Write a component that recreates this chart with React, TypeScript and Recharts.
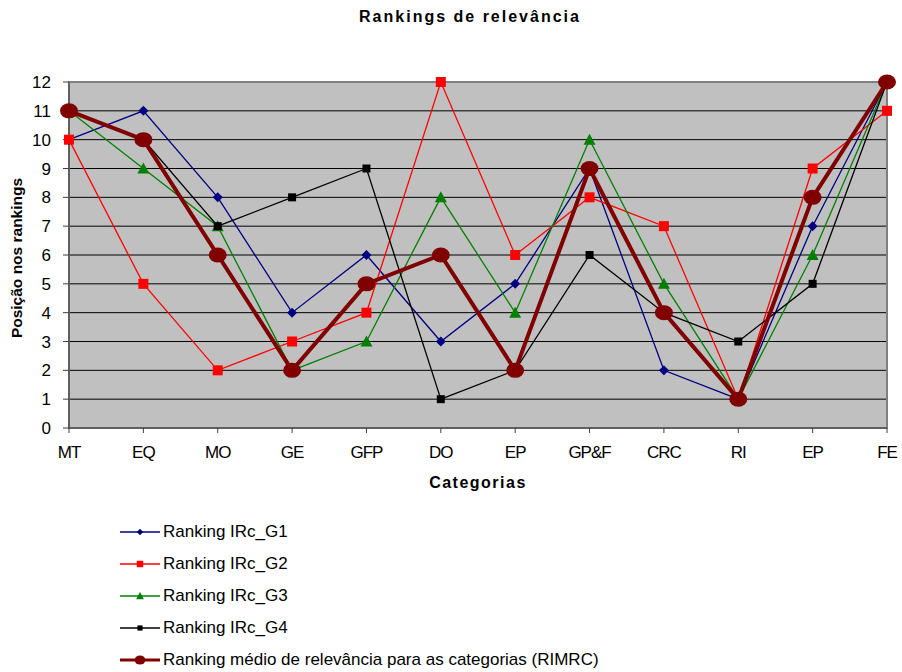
import { LineChart, Line, XAxis, YAxis, CartesianGrid, ReferenceArea } from 'recharts';

const categories = ['MT', 'EQ', 'MO', 'GE', 'GFP', 'DO', 'EP', 'GP&F', 'CRC', 'RI', 'EP', 'FE'];
const g1 = [10, 11, 8, 4, 6, 3, 5, 9, 2, 1, 7, 12];
const g2 = [10, 5, 2, 3, 4, 12, 6, 8, 7, 1, 9, 11];
const g3 = [11, 9, 7, 2, 3, 8, 4, 10, 5, 1, 6, 12];
const g4 = [11, 10, 7, 8, 9, 1, 2, 6, 4, 3, 5, 12];
const rimrc = [11, 10, 6, 2, 5, 6, 2, 9, 4, 1, 8, 12];
const yTicks = [0, 1, 2, 3, 4, 5, 6, 7, 8, 9, 10, 11, 12];

const data = categories.map((cat, i) => ({
  cat,
  g1: g1[i],
  g2: g2[i],
  g3: g3[i],
  g4: g4[i],
  rimrc: rimrc[i],
}));

const FONT = '"Liberation Sans", Arial, sans-serif';

type Shape = 'diamond' | 'square' | 'triangle' | 'smallSquare' | 'circle';

// s scales the marker (legend icons are drawn smaller than the plot markers)
function Marker({ shape, color, cx, cy, s = 1 }: { shape: Shape; color: string; cx: number; cy: number; s?: number }) {
  if (shape === 'diamond') {
    const r = 5 * s;
    return <polygon points={`${cx},${cy - r} ${cx + r},${cy} ${cx},${cy + r} ${cx - r},${cy}`} fill={color} />;
  }
  if (shape === 'square' || shape === 'smallSquare') {
    const h = (shape === 'square' ? 5 : 4) * s;
    return <rect x={cx - h} y={cy - h} width={h * 2} height={h * 2} fill={color} />;
  }
  if (shape === 'triangle') {
    return <polygon points={`${cx},${cy - 6 * s} ${cx + 6 * s},${cy + 5 * s} ${cx - 6 * s},${cy + 5 * s}`} fill={color} />;
  }
  return <ellipse cx={cx} cy={cy} rx={9 * s} ry={7.5 * s} fill={color} />;
}

const dot = (shape: Shape, color: string) => (p: any) => (
  <Marker key={`${shape}-${p.index}`} shape={shape} color={color} cx={p.cx} cy={p.cy} />
);

const series: { key: string; name: string; color: string; width: number; shape: Shape }[] = [
  { key: 'g1', name: 'Ranking IRc_G1', color: '#000080', width: 1.3, shape: 'diamond' },
  { key: 'g2', name: 'Ranking IRc_G2', color: '#FF0000', width: 1.3, shape: 'square' },
  { key: 'g3', name: 'Ranking IRc_G3', color: '#008000', width: 1.3, shape: 'triangle' },
  { key: 'g4', name: 'Ranking IRc_G4', color: '#000000', width: 1.3, shape: 'smallSquare' },
  { key: 'rimrc', name: 'Ranking médio de relevância para as categorias (RIMRC)', color: '#800000', width: 4, shape: 'circle' },
];

const XTick = ({ x, y, payload }: any) => (
  <text x={x} y={y + 23} textAnchor="middle" fontSize={17} fill="#000" fontFamily={FONT} letterSpacing={-1}>
    {payload.value}
  </text>
);

export default function App() {
  return (
    <div style={{ position: 'absolute', left: 0, top: 0, width: 902, height: 672, background: '#fff', fontFamily: FONT }}>
      <div style={{ position: 'absolute', top: 8, left: 0, width: 940, textAlign: 'center', fontSize: 16, fontWeight: 'bold', letterSpacing: 2 }}>
        Rankings de relevância
      </div>
      <div
        style={{
          position: 'absolute', left: 17, top: 258, transform: 'translate(-50%, -50%) rotate(-90deg)',
          fontSize: 15.5, fontWeight: 'bold', whiteSpace: 'nowrap',
        }}
      >
        Posição nos rankings
      </div>
      <LineChart width={902} height={500} data={data} margin={{ top: 82, right: 15, bottom: 10, left: 0 }}>
        <CartesianGrid vertical={false} stroke="#000" fill="#C0C0C0" fillOpacity={1} />
        <ReferenceArea y1={0} y2={12} fill="none" stroke="#808080" strokeWidth={2} ifOverflow="visible" />
        <XAxis
          dataKey="cat"
          height={62}
          tick={<XTick />}
          tickSize={5}
          stroke="#404040"
          interval={0}
          label={{ value: 'Categorias', position: 'insideBottom', offset: 2, fontSize: 16, fontWeight: 'bold', fill: '#000', letterSpacing: 1.5 }}
        />
        <YAxis
          width={69}
          domain={[0, 12]}
          ticks={yTicks}
          interval={0}
          tickSize={6}
          tickMargin={12}
          stroke="#404040"
          tick={{ fontSize: 17, fill: '#000', fontFamily: FONT }}
        />
        {series.map(s => (
          <Line
            key={s.key}
            type="linear"
            dataKey={s.key}
            name={s.name}
            stroke={s.color}
            strokeWidth={s.width}
            dot={dot(s.shape, s.color)}
            activeDot={false}
            isAnimationActive={false}
          />
        ))}
      </LineChart>
      <div style={{ position: 'absolute', left: 118, top: 516 }}>
        {series.map(s => (
          <div key={s.key} style={{ display: 'flex', alignItems: 'center', height: 32 }}>
            <svg width={44} height={20}>
              <line x1={2} y1={10} x2={42} y2={10} stroke={s.color} strokeWidth={s.width === 4 ? 3 : 1.5} />
              <Marker shape={s.shape} color={s.color} cx={22} cy={10} s={s.shape === 'circle' ? 0.6 : 0.65} />
            </svg>
            <span style={{ fontSize: 17, marginLeft: 1, whiteSpace: 'nowrap' }}>{s.name}</span>
          </div>
        ))}
      </div>
    </div>
  );
}
